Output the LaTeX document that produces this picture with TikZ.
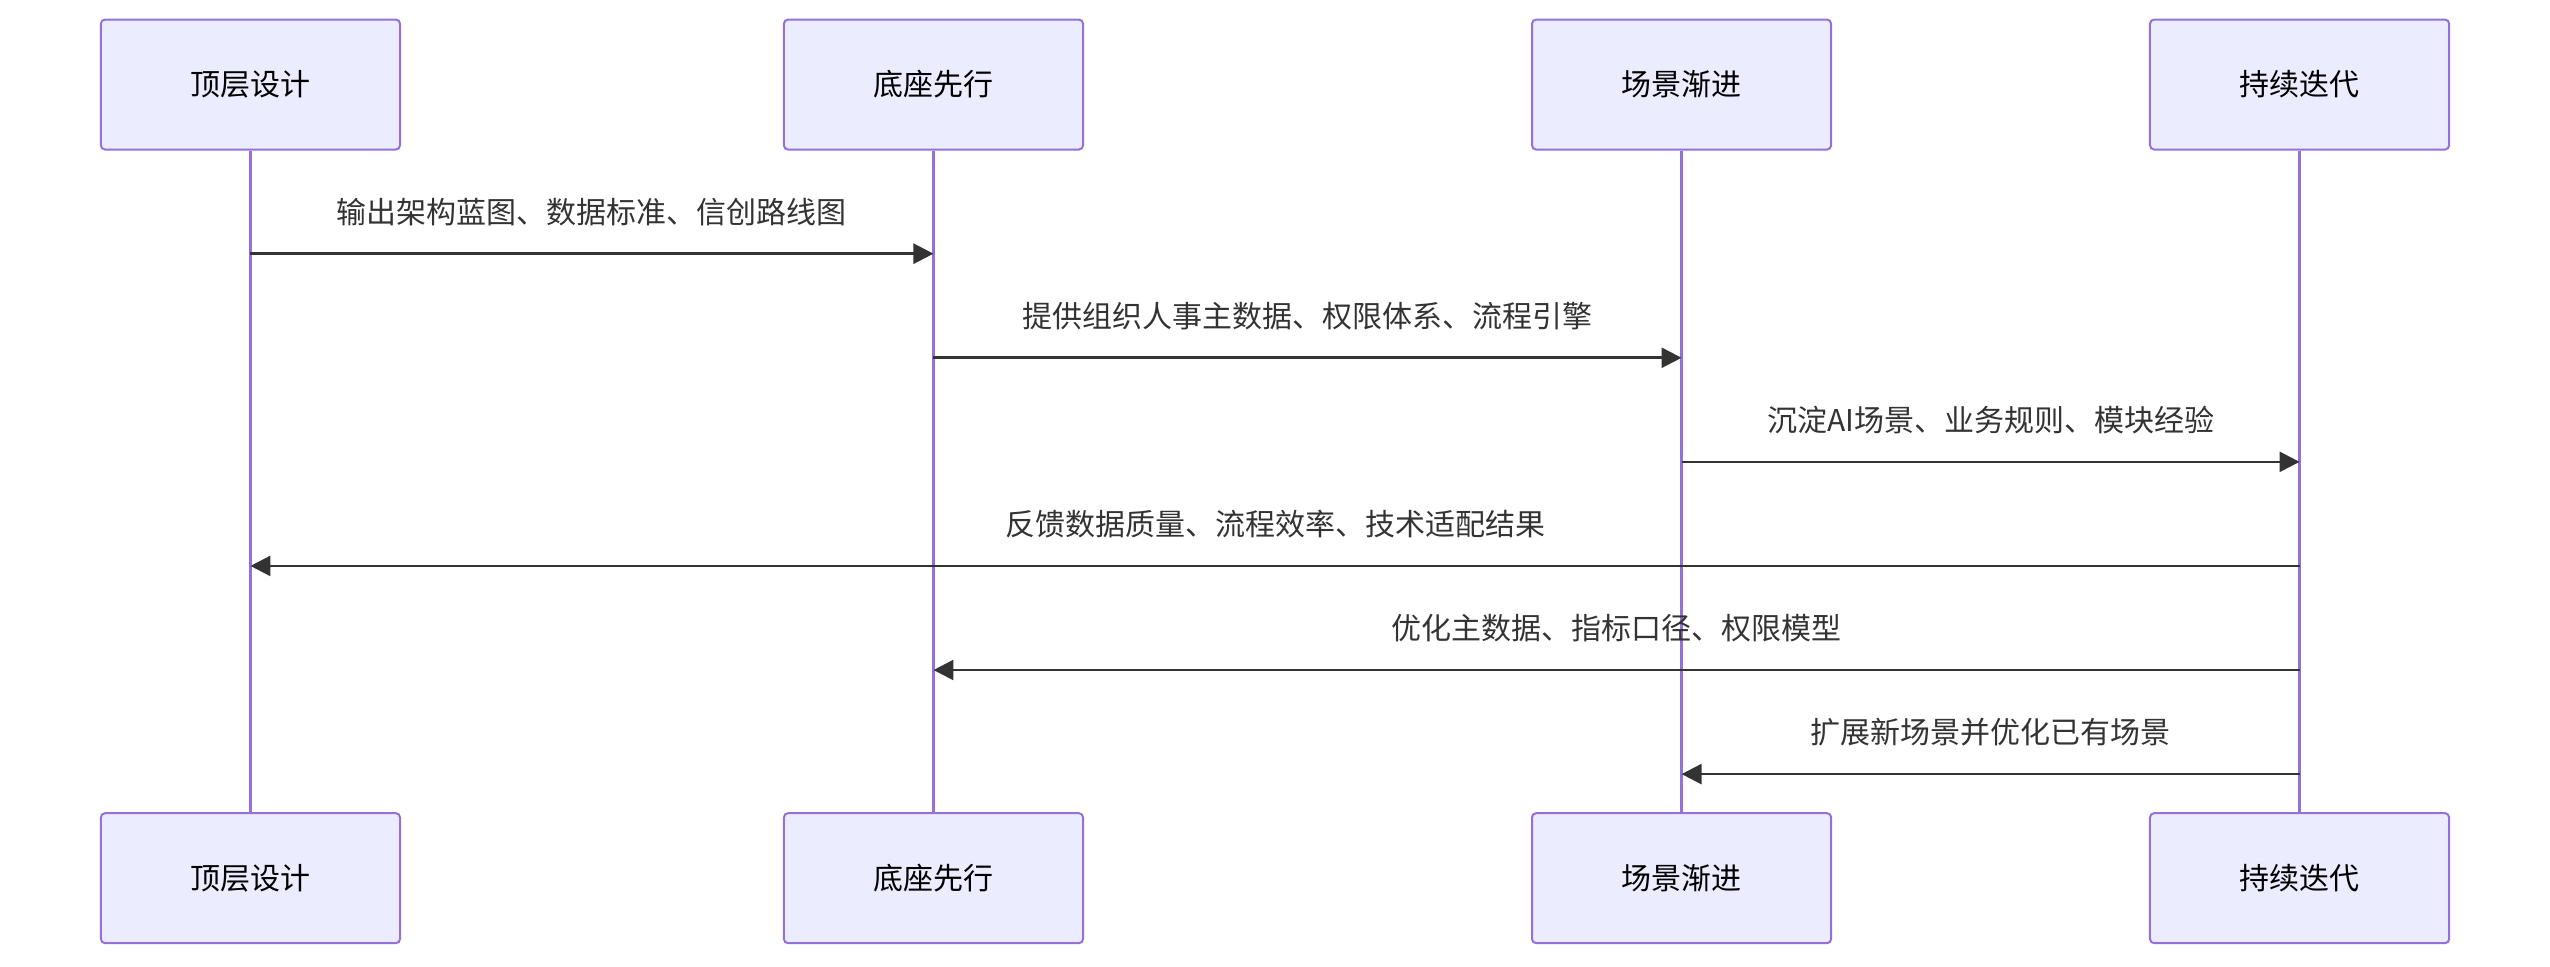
\documentclass[tikz,border=0pt]{standalone}
\usepackage{fontspec}
\setmainfont{Noto Sans CJK SC}
\usetikzlibrary{arrows.meta}
\definecolor{boxfill}{HTML}{ECECFF}
\definecolor{boxline}{HTML}{9370DB}
\definecolor{msg}{HTML}{333333}
\begin{document}
\begin{tikzpicture}[x=0.02cm,y=-0.02cm,
  actor/.style={draw=boxline,fill=boxfill,line width=0.7pt,rounded corners=1.5pt,minimum width=3.68cm,minimum height=1.6cm,font=\fontsize{10.5}{12}\selectfont,text=black},
  life/.style={draw=boxline,line width=1.2pt},
  m/.style={draw=msg,line width=0.9pt,-{Triangle[length=7pt,width=7pt]}},
  lbl/.style={font=\fontsize{10.5}{12}\selectfont,text=msg}]
\useasboundingbox (0,0) rectangle (1568,594);
\foreach \n/\x/\t in {a/154/顶层设计,b/574/底座先行,c/1034/场景渐进,d/1414/持续迭代}{
  \node[actor] (\n top) at (\x,52) {\t};
  \node[actor] (\n bot) at (\x,540) {\t};
  \draw[life] (\n top.south) -- (\n bot.north);
  \foreach \y in {156,220,284,348,412,476}{\coordinate (\n\y) at (\x,\y);}
}
\draw[m] (a156) -- node[lbl,above=6pt]{输出架构蓝图、数据标准、信创路线图} (b156);
\draw[m] (b220) -- node[lbl,above=6pt]{提供组织人事主数据、权限体系、流程引擎} (c220);
\draw[m] (c284) -- node[lbl,above=6pt]{沉淀AI场景、业务规则、模块经验} (d284);
\draw[m] (d348) -- node[lbl,above=6pt]{反馈数据质量、流程效率、技术适配结果} (a348);
\draw[m] (d412) -- node[lbl,above=6pt]{优化主数据、指标口径、权限模型} (b412);
\draw[m] (d476) -- node[lbl,above=6pt]{扩展新场景并优化已有场景} (c476);
\end{tikzpicture}
\end{document}
